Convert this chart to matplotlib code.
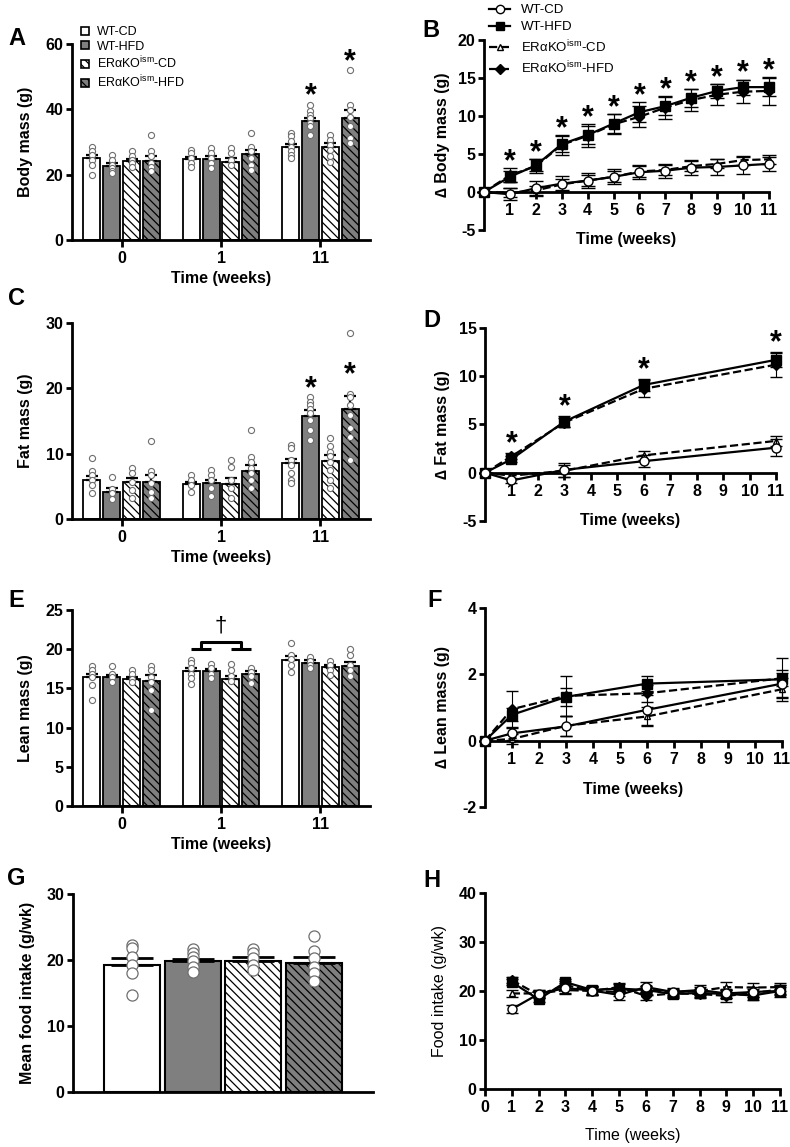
import matplotlib
matplotlib.use("Agg")
import matplotlib.pyplot as plt
from matplotlib.patches import Patch
from matplotlib.lines import Line2D

plt.rcParams['font.family'] = ['Liberation Sans', 'DejaVu Sans']
plt.rcParams['font.weight'] = 'bold'
plt.rcParams['axes.labelweight'] = 'bold'
plt.rcParams['axes.unicode_minus'] = False
plt.rcParams['mathtext.default'] = 'regular'
plt.rcParams['hatch.linewidth'] = 0.9

W, H = 790, 1147

groups = ['WT-CD', 'WT-HFD', 'ERαKO$^{ism}$-CD', 'ERαKO$^{ism}$-HFD']
time_labels = ['0', '1', '11']

# ---- bar data: rows = week 0 / 1 / 11, cols = groups
body_mean = [[25.0, 22.8, 24.1, 24.2],
             [24.8, 24.8, 23.8, 26.2],
             [28.4, 36.5, 28.4, 37.2]]
body_sem = [[0.9, 0.7, 0.8, 1.4],
            [0.7, 0.8, 1.2, 1.4],
            [1.0, 1.0, 1.2, 2.7]]
body_pts = [
    [[28.6, 27.1, 26.1, 24.5, 23.0, 19.9], [26.1, 24.5, 23.0, 22.0, 21.0, 20.4],
     [27.1, 25.6, 24.5, 23.5, 22.5], [32.2, 27.1, 25.6, 23.5, 22.5, 21.0]],
    [[27.6, 26.6, 25.0, 23.5, 22.5], [28.1, 26.6, 25.0, 23.5, 22.0],
     [28.1, 26.6, 24.5, 23.0], [32.9, 28.6, 27.1, 25.0, 23.0, 21.5]],
    [[32.9, 31.7, 30.2, 28.6, 27.1, 26.1, 25.0], [41.4, 39.4, 38.3, 37.3, 35.8, 34.8, 32.2],
     [32.2, 30.7, 29.1, 27.6, 25.6, 24.0], [51.9, 41.4, 39.9, 37.8, 34.8, 31.2, 29.7]],
]

fat_mean = [[6.0, 4.2, 5.7, 5.7],
            [5.3, 5.5, 5.3, 7.4],
            [8.5, 15.8, 8.9, 16.9]]
fat_sem = [[0.6, 0.5, 0.6, 1.0],
           [0.4, 0.5, 0.9, 0.9],
           [0.7, 0.9, 0.9, 1.9]]
fat_pts = [
    [[9.3, 7.3, 6.8, 6.0, 5.2, 4.0], [6.4, 4.6, 4.0, 3.0],
     [7.8, 7.1, 5.7, 4.5, 3.2], [12.0, 7.4, 6.8, 5.5, 4.2, 3.2]],
    [[6.8, 6.0, 5.2, 4.2], [7.5, 6.8, 6.0, 4.7, 3.5],
     [9.0, 8.0, 6.0, 4.7, 3.2], [13.6, 9.5, 8.8, 7.8, 7.0, 6.0, 4.7]],
    [[11.3, 10.8, 9.0, 8.3, 7.0, 6.0, 5.5], [18.7, 17.9, 17.4, 16.9, 16.2, 15.1, 13.6, 12.1],
     [12.4, 11.1, 10.3, 9.6, 8.8, 7.5, 6.0, 4.7], [28.5, 19.2, 18.7, 17.4, 15.9, 13.9, 12.6, 9.0]],
]

lean_mean = [[16.4, 16.4, 16.2, 16.0],
             [17.2, 17.2, 16.2, 16.9],
             [18.6, 18.3, 17.7, 17.8]]
lean_sem = [[0.4, 0.3, 0.3, 0.7],
            [0.4, 0.3, 0.4, 0.3],
            [0.5, 0.3, 0.3, 0.6]]
lean_pts = [
    [[17.9, 17.4, 16.9, 16.4, 15.4, 13.5], [17.9, 16.9, 16.5, 15.8],
     [17.3, 16.8, 16.2, 15.8], [17.9, 17.4, 16.5, 15.8, 14.8, 12.3]],
    [[18.6, 18.2, 17.6, 16.9, 16.3, 15.6], [18.1, 17.6, 16.9, 16.3],
     [18.1, 17.3, 16.6, 16.0], [17.6, 17.1, 16.6, 15.7]],
    [[20.8, 19.3, 18.7, 18.0, 17.1], [19.0, 18.5, 18.0, 17.6],
     [18.5, 18.0, 17.3, 16.7], [20.0, 19.3, 18.0, 17.4, 16.6]],
]

# significant bars (week index, group index)
sig_bars = [(2, 1), (2, 3)]

food_avg = [19.3, 19.8, 19.9, 19.6]
food_avg_sem = [1.0, 0.4, 0.5, 0.8]
food_avg_pts = [[22.3, 21.8, 20.5, 19.3, 18.1, 14.7], [21.6, 21.0, 20.5, 19.8, 19.0, 18.2],
                [21.6, 21.0, 20.3, 19.3, 18.5], [23.7, 21.4, 20.3, 19.0, 18.0, 16.8]]

# ---- line data: rows = WT-CD, WT-HFD, KO-CD, KO-HFD
wk_body = [0, 1, 2, 3, 4, 5, 6, 7, 8, 9, 10, 11]
dbody_mean = [[0, -0.3, 0.5, 1.1, 1.5, 2.0, 2.6, 2.8, 3.2, 3.3, 3.5, 3.7],
              [0, 2.0, 3.5, 6.3, 7.5, 9.0, 10.5, 11.3, 12.4, 13.3, 13.8, 13.8],
              [0, -0.1, 0.2, 1.0, 1.5, 2.0, 2.7, 2.9, 3.4, 3.7, 4.2, 4.3],
              [0, 2.2, 3.4, 6.2, 7.4, 8.9, 9.9, 11.1, 12.1, 12.8, 13.2, 13.3]]
dbody_sem = [[0, 0.8, 1.0, 1.0, 1.0, 1.0, 0.9, 0.9, 1.0, 1.0, 1.1, 0.9],
             [0, 0.7, 0.8, 1.1, 1.2, 1.3, 1.3, 1.2, 1.2, 0.9, 1.0, 1.2],
             [0, 0.6, 0.6, 0.7, 0.7, 0.7, 0.7, 0.7, 0.7, 0.6, 0.6, 0.6],
             [0, 0.9, 0.9, 1.3, 1.5, 1.3, 1.4, 1.5, 1.5, 1.4, 1.5, 1.8]]
dbody_sig = [1, 2, 3, 4, 5, 6, 7, 8, 9, 10, 11]

wk_comp = [0, 1, 3, 6, 11]
dfat_mean = [[0, -0.8, 0.3, 1.2, 2.6],
             [0, 1.4, 5.3, 9.1, 11.7],
             [0, -0.3, 0.2, 1.8, 3.3],
             [0, 1.7, 5.2, 8.7, 11.2]]
dfat_sem = [[0, 0.3, 0.7, 0.6, 0.9],
            [0, 0.3, 0.6, 0.6, 0.7],
            [0, 0.3, 0.6, 0.5, 0.5],
            [0, 0.3, 0.5, 0.9, 1.3]]
dfat_sig = [1, 3, 6, 11]

dlean_mean = [[0, 0.22, 0.43, 0.93, 1.72],
              [0, 0.78, 1.32, 1.72, 1.85],
              [0, 0.05, 0.45, 0.73, 1.55],
              [0, 0.95, 1.35, 1.43, 1.88]]
dlean_sem = [[0, 0.2, 0.3, 0.45, 0.4],
             [0, 0.2, 0.28, 0.23, 0.2],
             [0, 0.15, 0.3, 0.3, 0.35],
             [0, 0.56, 0.6, 0.25, 0.6]]

wk_food = [1, 2, 3, 4, 5, 6, 7, 8, 9, 10, 11]
food_mean = [[16.3, 19.4, 20.6, 20.1, 19.2, 20.8, 19.8, 20.2, 19.5, 19.8, 20.0],
             [21.8, 18.3, 21.8, 20.2, 20.5, 20.2, 19.4, 19.6, 19.4, 19.1, 20.0],
             [19.5, 19.5, 20.2, 20.0, 19.8, 20.3, 19.8, 20.0, 20.8, 20.7, 20.8],
             [22.2, 19.2, 21.2, 20.0, 20.8, 19.0, 19.5, 19.4, 19.0, 19.6, 20.3]]
food_sem = [[0.8, 0.8, 1.0, 1.0, 1.0, 1.0, 0.9, 1.0, 1.0, 1.0, 1.2],
            [0.6, 0.6, 0.7, 0.8, 0.9, 0.8, 0.9, 0.8, 0.9, 0.9, 0.8],
            [0.8, 0.8, 0.9, 0.8, 0.8, 0.8, 0.7, 0.9, 1.0, 0.9, 0.8],
            [0.6, 0.7, 0.9, 0.9, 0.9, 0.8, 0.8, 0.8, 1.2, 0.9, 0.9]]

bar_fc = ['white', '#7f7f7f', 'white', '#7f7f7f']
bar_hatch = [None, None, '\\\\\\\\', '\\\\\\\\']
line_fmt = [('-', 'o', 'white', 6.5), ('-', 's', 'k', 6.5),
            ('--', '^', 'white', 5.0), ('--', 'D', 'k', 5.5)]
draw_order = [2, 3, 1, 0]


def px_axes(l, t, r, b):
    return fig.add_axes([l / W, 1 - b / H, (r - l) / W, (b - t) / H])


def style(ax, xlen=5):
    for s in ['top', 'right']:
        ax.spines[s].set_visible(False)
    for s in ['left', 'bottom']:
        ax.spines[s].set_linewidth(2)
    ax.tick_params(axis='y', width=2, length=4, labelsize=11.5, pad=2)
    ax.tick_params(axis='x', width=2, length=xlen, labelsize=11.5, pad=3)


def bar_panel(ax, means, sems, pts, ymax, ystep, star_off):
    offs = [-0.3, -0.1, 0.1, 0.3]
    for t in range(3):
        for g in range(4):
            x = t + offs[g]
            ax.bar(x, means[t][g], 0.17, color=bar_fc[g], edgecolor='k', hatch=bar_hatch[g],
                   lw=1.3, zorder=2)
            ax.errorbar(x, means[t][g], yerr=[[0], [sems[t][g]]], fmt='none', ecolor='k',
                        elinewidth=1.6, capsize=4, capthick=1.6, zorder=3)
            ax.plot([x] * len(pts[t][g]), pts[t][g], 'o', ms=4.4, mfc='white', mec='#6e6e6e',
                    mew=0.8, zorder=4, clip_on=False)
    if star_off is not None:
        for t, g in sig_bars:
            y = star_off(t, g)
            ax.annotate('*', (t + offs[g], y), xytext=(0, -12.5), textcoords='offset points',
                        ha='center', va='baseline', fontsize=22, fontweight='bold')
    ax.set_xlim(-0.5, 2.5)
    ax.set_ylim(0, ymax)
    ax.set_yticks(range(0, ymax + 1, ystep))
    ax.set_xticks([0, 1, 2])
    ax.set_xticklabels(time_labels)
    style(ax)
    ax.set_xlabel('Time (weeks)', fontsize=11.5)
    ax.xaxis.set_label_coords(0.5, -0.16)


def line_panel(ax, wk, means, sems, lw=1.6, cap=4):
    for z, g in enumerate(draw_order):
        ls, mk, mfc, ms = line_fmt[g]
        c = ax.errorbar(wk, means[g], yerr=sems[g], color='k', ls=ls, lw=lw, marker=mk,
                        ms=ms, mfc=mfc, mec='k', mew=1.0,
                        elinewidth=0.8, capsize=cap, capthick=0.8, zorder=3 + z)
        for art in c.get_children():
            art.set_clip_on(False)


fig = plt.figure(figsize=(W / 100, H / 100), dpi=100)

# ---------- A
axA = px_axes(72, 44, 370, 240)
bar_panel(axA, body_mean, body_sem, body_pts, 60, 20,
          lambda t, g: max(body_pts[t][g]) + 5.5)
axA.set_ylabel('Body mass (g)', fontsize=11.5)
axA.yaxis.set_label_coords(-0.131, 0.5)

leg_handles = [Patch(facecolor=bar_fc[g], edgecolor='k', hatch=bar_hatch[g], lw=1.2)
               for g in range(4)]
fig.legend(leg_handles, groups, loc='upper left', bbox_to_anchor=(81 / W, 1 - 26 / H),
           frameon=False, prop={'size': 9, 'weight': 'normal'}, handlelength=0.6,
           handleheight=0.6, handletextpad=0.7, labelspacing=0.2, borderpad=0,
           borderaxespad=0)

# ---------- C
axC = px_axes(72, 323, 370, 519)
bar_panel(axC, fat_mean, fat_sem, fat_pts, 30, 10,
          lambda t, g: fat_mean[t][g] + fat_sem[t][g] + 4.6)
axC.set_ylabel('Fat mass (g)', fontsize=11.5)
axC.yaxis.set_label_coords(-0.131, 0.5)

# ---------- E
axE = px_axes(72, 610, 370, 806)
bar_panel(axE, lean_mean, lean_sem, lean_pts, 25, 5, None)
axE.set_ylabel('Lean mass (g)', fontsize=11.5)
axE.yaxis.set_label_coords(-0.131, 0.5)
low = max(m + s for m, s in zip(lean_mean[1], lean_sem[1])) + 2.4
high = low + 0.95
bk = dict(color='k', lw=2.2, solid_capstyle='butt', clip_on=False)
axE.plot([1 - 0.3, 1 - 0.1], [low, low], **bk)
axE.plot([1 + 0.1, 1 + 0.3], [low, low], **bk)
axE.plot([1 - 0.2, 1 - 0.2, 1 + 0.2, 1 + 0.2], [low, high, high, low], **bk)
axE.text(1, high + 1.3, '†', ha='center', va='baseline', fontsize=16, fontweight='normal')

# ---------- G
axG = px_axes(73, 894, 373, 1092)
for g in range(4):
    axG.bar(g, food_avg[g], 0.92, color=bar_fc[g], edgecolor='k', hatch=bar_hatch[g],
            lw=1.5, zorder=2)
    axG.errorbar(g, food_avg[g], yerr=[[0], [food_avg_sem[g]]], fmt='none', ecolor='k',
                 elinewidth=2, capsize=15, capthick=2, zorder=3)
    axG.plot([g] * len(food_avg_pts[g]), food_avg_pts[g], 'o', ms=8, mfc='white',
             mec='#6e6e6e', mew=0.9, zorder=4)
axG.set_xlim(-0.97, 3.97)
axG.set_ylim(0, 30)
axG.set_yticks([0, 10, 20, 30])
axG.set_xticks([])
style(axG)
axG.set_ylabel('Mean food intake (g/wk)', fontsize=11.5)
axG.yaxis.set_label_coords(-0.127, 0.5)

# ---------- B
axB = px_axes(484, 40, 769, 230)
line_panel(axB, wk_body, dbody_mean, dbody_sem, cap=5)
for w in dbody_sig:
    i = wk_body.index(w)
    y = max(dbody_mean[1][i] + dbody_sem[1][i], dbody_mean[3][i] + dbody_sem[3][i]) + 2.0
    axB.annotate('*', (w, y), xytext=(0, -12.5), textcoords='offset points',
                 ha='center', va='baseline', fontsize=22, fontweight='bold')
axB.set_xlim(0, 11)
axB.set_ylim(-5, 20)
axB.set_yticks([-5, 0, 5, 10, 15, 20])
axB.set_xticks(range(1, 12))
axB.spines['bottom'].set_position(('data', 0))
style(axB)
axB.set_xlabel('Time (weeks)', fontsize=11.5)
axB.xaxis.set_label_coords(0.5, -0.01)
axB.set_ylabel('∆ Body mass (g)', fontsize=11.5)
axB.yaxis.set_label_coords(-0.119, 0.5)

line_handles = [Line2D([], [], color='k', ls=line_fmt[g][0], lw=1.6, marker=line_fmt[g][1],
                       ms=line_fmt[g][3] - 0.5, mfc=line_fmt[g][2], mec='k')
                for g in range(4)]
fig.legend(line_handles, groups, loc='upper left', bbox_to_anchor=(489 / W, 1 - 4 / H),
           frameon=False, prop={'size': 9.5, 'weight': 'normal'}, handlelength=1.6,
           handletextpad=0.8, labelspacing=0.38, borderpad=0, borderaxespad=0)

# ---------- D
axD = px_axes(485, 328, 776, 521)
line_panel(axD, wk_comp, dfat_mean, dfat_sem)
for w in dfat_sig:
    i = wk_comp.index(w)
    y = max(dfat_mean[1][i] + dfat_sem[1][i], dfat_mean[3][i] + dfat_sem[3][i]) + 1.9
    axD.annotate('*', (w, y), xytext=(0, -12.5), textcoords='offset points',
                 ha='center', va='baseline', fontsize=22, fontweight='bold')
axD.set_xlim(0, 11)
axD.set_ylim(-5, 15)
axD.set_yticks([-5, 0, 5, 10, 15])
axD.set_xticks(range(1, 12))
axD.spines['bottom'].set_position(('data', 0))
style(axD)
axD.set_xlabel('Time (weeks)', fontsize=11.5)
axD.xaxis.set_label_coords(0.5, 0.041)
axD.set_ylabel('∆ Fat mass (g)', fontsize=11.5)
axD.yaxis.set_label_coords(-0.12, 0.5)

# ---------- F
axF = px_axes(485, 608, 782, 807)
line_panel(axF, wk_comp, dlean_mean, dlean_sem)
axF.set_xlim(0, 11)
axF.set_ylim(-2, 4)
axF.set_yticks([-2, 0, 2, 4])
axF.set_xticks(range(1, 12))
axF.spines['bottom'].set_position(('data', 0))
style(axF)
axF.set_xlabel('Time (weeks)', fontsize=11.5)
axF.xaxis.set_label_coords(0.5, 0.126)
axF.set_ylabel('∆ Lean mass (g)', fontsize=11.5)
axF.yaxis.set_label_coords(-0.117, 0.5)

# ---------- H
axH = px_axes(485, 893, 780, 1089)
line_panel(axH, wk_food, food_mean, food_sem)
axH.set_xlim(0, 11)
axH.set_ylim(0, 40)
axH.set_yticks([0, 10, 20, 30, 40])
axH.set_xticks(range(0, 12))
style(axH)
axH.set_xlabel('Time (weeks)', fontsize=11.5, fontweight='normal')
axH.xaxis.set_label_coords(0.5, -0.2)
axH.set_ylabel('Food intake (g/wk)', fontsize=11.5, fontweight='normal')
axH.yaxis.set_label_coords(-0.129, 0.5)

# panel letters
for letter, x, y in [('A', 8, 45), ('B', 422, 37), ('C', 8, 305), ('D', 423, 327),
                     ('E', 8, 607), ('F', 427, 607), ('G', 7, 885), ('H', 423, 887)]:
    fig.text(x / W, 1 - y / H, letter, fontsize=17, fontweight='bold', va='baseline')

fig.savefig('out.png', dpi=100)
